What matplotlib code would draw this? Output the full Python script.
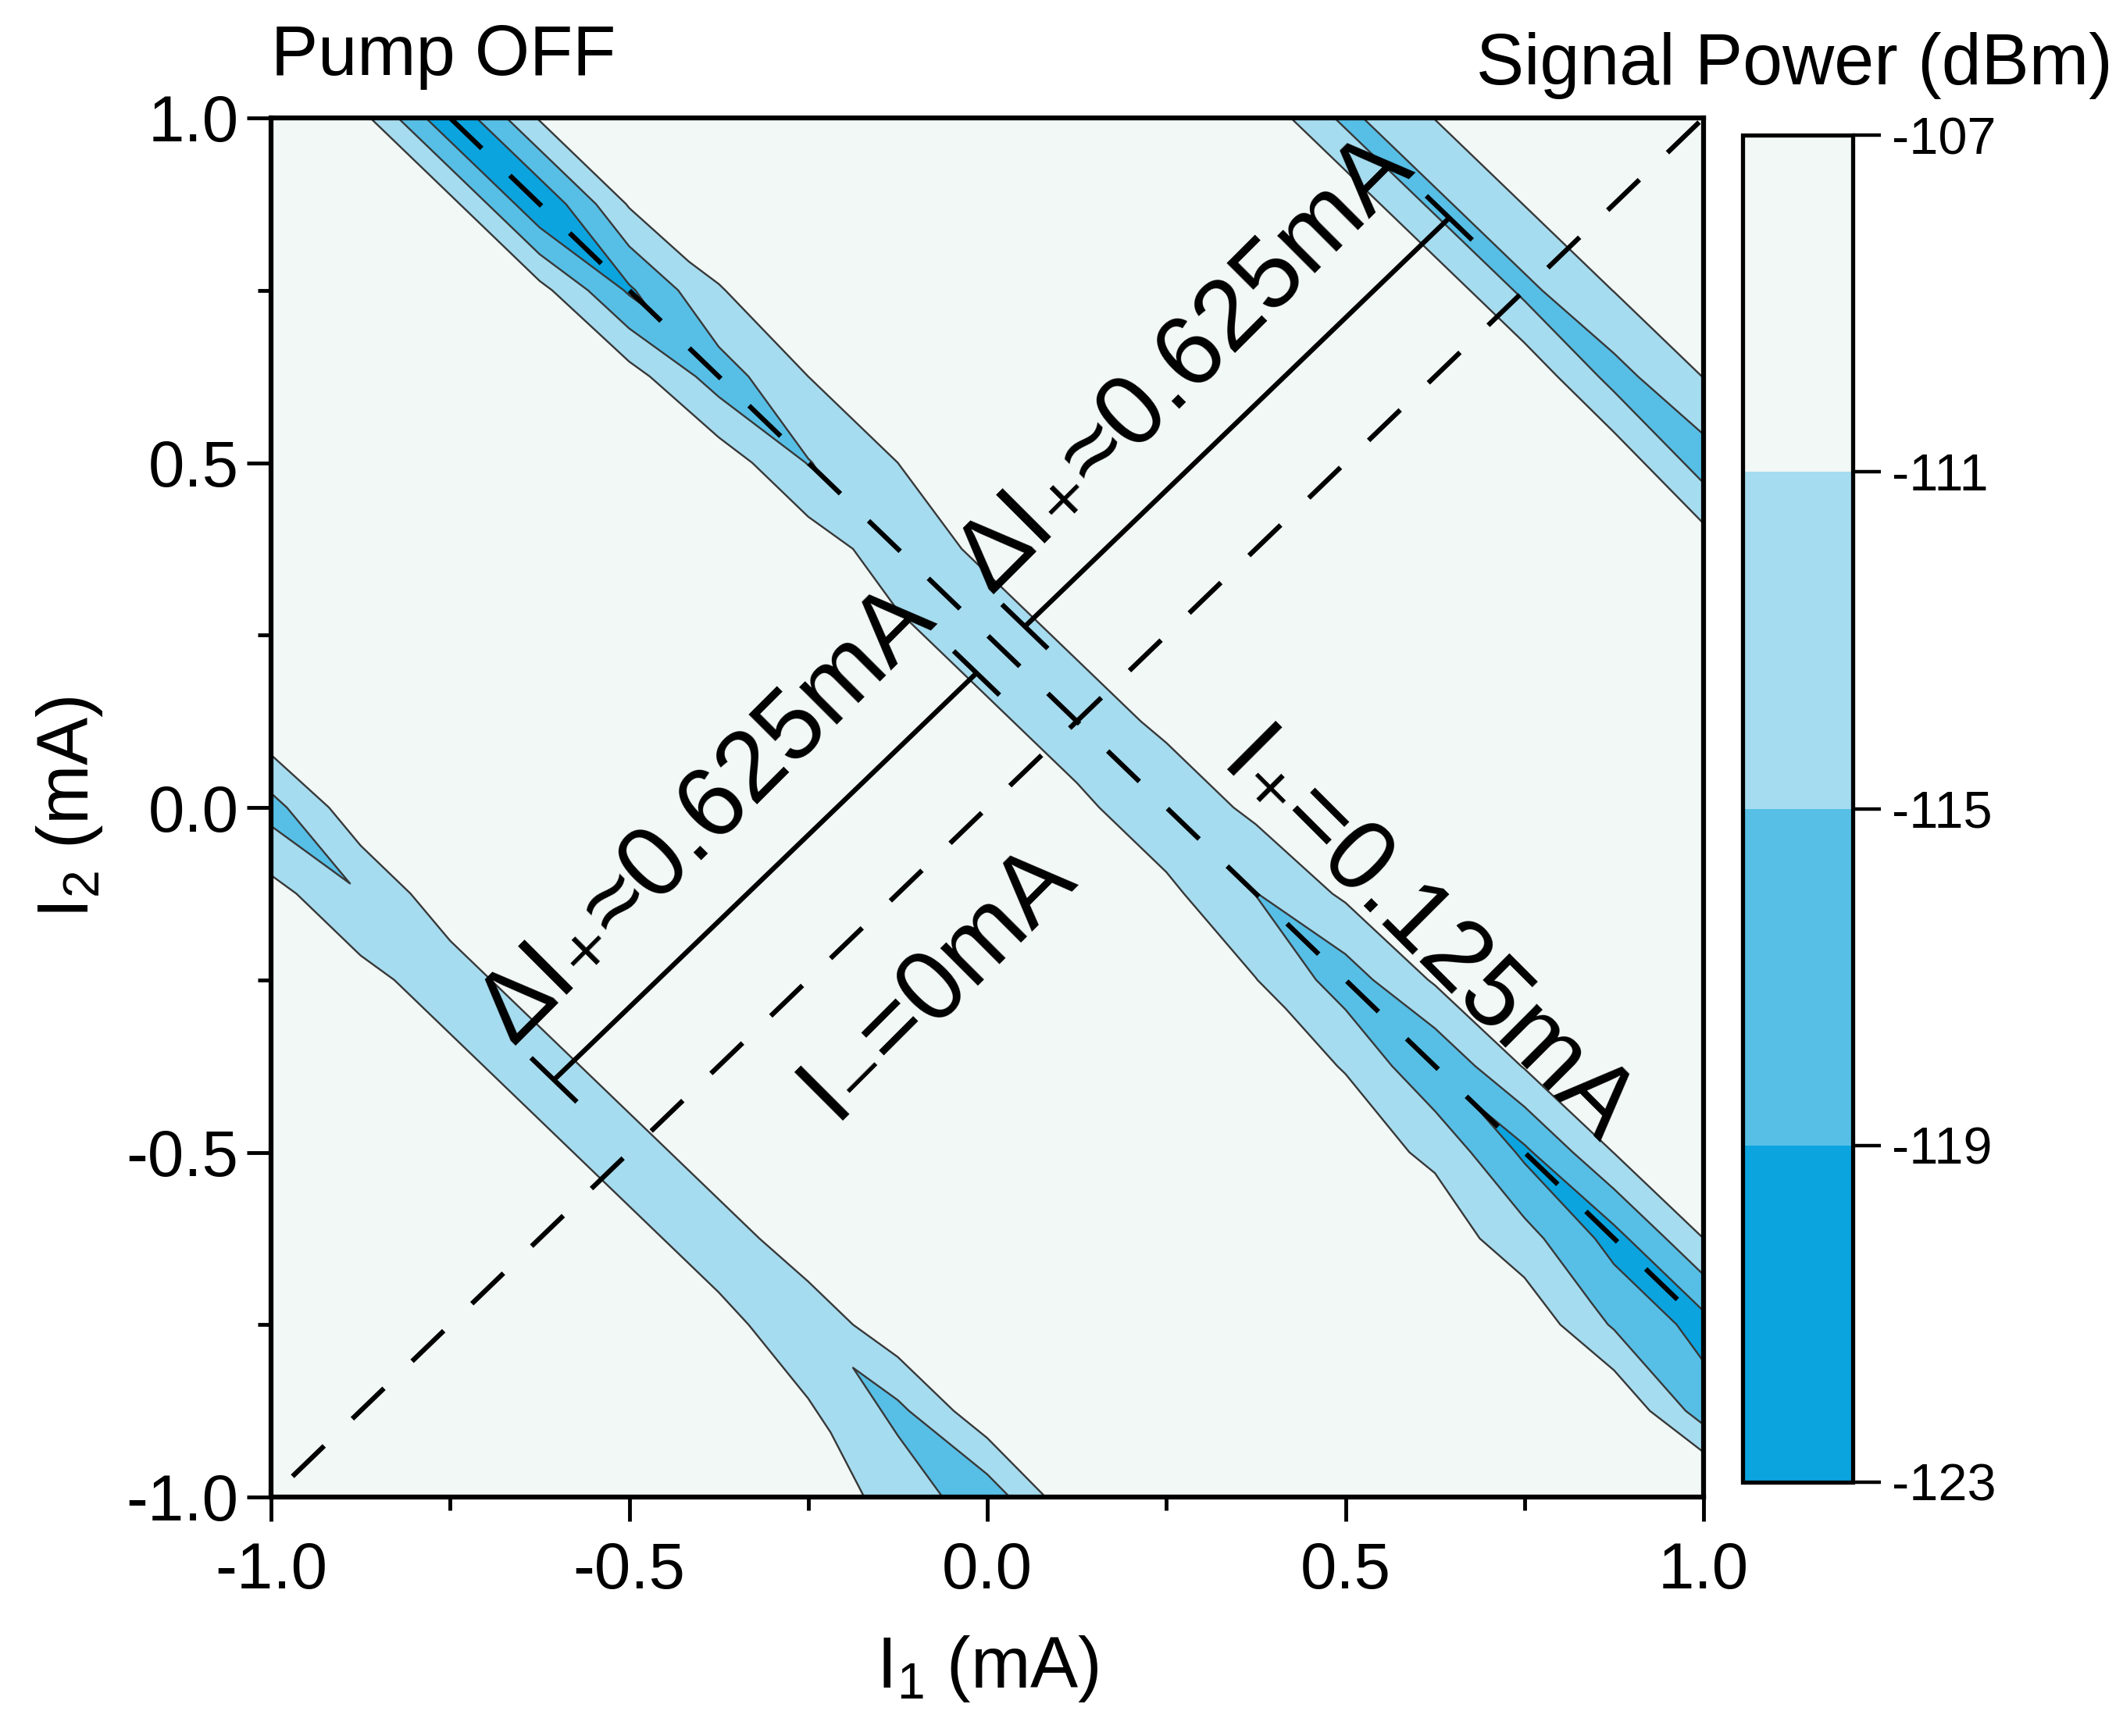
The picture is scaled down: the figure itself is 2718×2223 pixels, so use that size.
import matplotlib
matplotlib.use('Agg')
import matplotlib.pyplot as plt
import matplotlib.tri as mtri
from matplotlib.colors import ListedColormap, BoundaryNorm
from matplotlib.cm import ScalarMappable
from matplotlib.ticker import FixedLocator, FormatStrFormatter

plt.rcParams['font.family'] = ['Liberation Sans', 'DejaVu Sans']
plt.rcParams['mathtext.fontset'] = 'custom'
plt.rcParams['mathtext.rm'] = 'Liberation Sans'
plt.rcParams['mathtext.it'] = 'Liberation Sans'
plt.rcParams['mathtext.bf'] = 'Liberation Sans:bold'
plt.rcParams['mathtext.sf'] = 'Liberation Sans'
plt.rcParams['axes.unicode_minus'] = False

# ---------------- data ----------------
i1_values = [-1.0, -0.875, -0.75, -0.625, -0.5, -0.375, -0.25, -0.125, 0.0,
             0.125, 0.25, 0.375, 0.5, 0.625, 0.75, 0.875, 1.0]
i2_values = [-1.0, -0.875, -0.75, -0.625, -0.5, -0.375, -0.25, -0.125, 0.0,
             0.125, 0.25, 0.375, 0.5, 0.625, 0.75, 0.875, 1.0]

# signal power (dBm); one row per I2 value (bottom to top), columns follow I1
power_rows = [
    [-109, -109, -109, -109, -109, -109, -108.5, -112.5, -117.5, -107.5, -109, -109, -109, -109, -109, -109, -104.5],
    [-109, -109, -109, -109, -109, -109, -110.5, -116, -108, -109, -109, -109, -109, -109, -109, -107, -117],
    [-109, -109, -109, -109, -109, -109.5, -114, -108, -109, -109, -109, -109, -109, -109, -108, -115.5, -120.5],
    [-109, -109, -109, -109, -109.5, -113.5, -108, -109, -109, -109, -109, -109, -109, -108.5, -113.5, -120.5, -111],
    [-109, -109, -109, -109.5, -113.5, -108, -109, -109, -109, -109, -109, -109, -109, -111.8, -119.8, -110.9, -109],
    [-109, -109, -109.5, -113.5, -108, -109, -109, -109, -109, -109, -109, -109, -111.2, -118.5, -110.7, -109, -109],
    [-109, -109.5, -113.5, -108, -109, -109, -109, -109, -109, -109, -109, -110.9, -117, -110.5, -109, -109, -109],
    [-109.5, -114.8, -108, -109, -109, -109, -109, -109, -109, -109, -110, -115.1, -110.3, -109, -109, -109, -109],
    [-116.5, -108, -109, -109, -109, -109, -109, -109, -109, -110, -114, -110, -109, -109, -109, -109, -109],
    [-107.5, -109, -109, -109, -109, -109, -109, -109, -110, -113.5, -110, -109, -109, -109, -109, -109, -109],
    [-109, -109, -109, -109, -109, -109, -109, -110, -113.5, -110, -108.5, -109, -109, -109, -109, -109, -109],
    [-109, -109, -109, -109, -109, -109, -108.5, -113.5, -110, -108.5, -109, -109, -109, -109, -109, -109, -108.5],
    [-109, -109, -109, -109, -109, -108.5, -115.2, -111, -108.5, -109, -109, -109, -109, -109, -109, -108, -117],
    [-109, -109, -109, -109, -109.2, -117, -111, -108.5, -109, -109, -109, -109, -109, -109, -107.8, -116.5, -110.9],
    [-109, -109, -109, -109.6, -119.6, -111.2, -108.5, -109, -109, -109, -109, -109, -109, -107.8, -116, -110.9, -109],
    [-109, -109, -109.6, -122.5, -110.6, -108.5, -109, -109, -109, -109, -109, -109, -107.8, -116, -110.9, -109, -109],
    [-109, -109.6, -122.5, -110.6, -108.5, -109, -109, -109, -109, -109, -109, -107.8, -116, -110.9, -109, -109, -109],
]

levels = [-123, -119, -115, -111, -107]
level_colors = ['#0BA4DF', '#57BFE6', '#A6DCEF', '#F2F8F6']

x_ticks = [-1.0, -0.5, 0.0, 0.5, 1.0]
x_minor = [-0.75, -0.25, 0.25, 0.75]
y_ticks = [-1.0, -0.5, 0.0, 0.5, 1.0]
y_minor = [-0.75, -0.25, 0.25, 0.75]

# guide lines (data coordinates)
diag_line_x = [-0.97, 1.0]
diag_line_y = [-0.97, 1.0]
anti_line_x = [-0.75, 1.0]
anti_line_y = [1.0, -0.75]
bracket1 = [(-0.605, -0.395), (-0.015, 0.195)]
bracket2 = [(0.0525, 0.2625), (0.645, 0.855)]
bar_half = 0.032

# ---------------- figure ----------------
W, H = 2718, 2223
fig = plt.figure(figsize=(W / 100, H / 100), dpi=100)
ax = fig.add_axes([347 / W, 1 - 1917 / H, (2181 - 347) / W, (1917 - 151) / H])

# measurement grid split into triangles along the I1+I2 = const direction
n = len(i1_values)
pts_x, pts_y, pts_z = [], [], []
for j, row in enumerate(power_rows):
    for i, v in enumerate(row):
        pts_x.append(i1_values[i])
        pts_y.append(i2_values[j])
        pts_z.append(v)
triangles = []
for j in range(n - 1):
    for i in range(n - 1):
        a = j * n + i
        b = a + 1
        c = a + n
        d = c + 1
        triangles.append([a, b, c])
        triangles.append([b, d, c])
tri = mtri.Triangulation(pts_x, pts_y, triangles)

cmap = ListedColormap(level_colors).with_extremes(over=level_colors[-1], under=level_colors[0])
ax.tricontourf(tri, pts_z, levels=levels, cmap=cmap, extend='both')
ax.tricontour(tri, pts_z, levels=levels[1:-1], colors='#383838', linewidths=1.7,
              linestyles='solid')

dash = (0, (9, 8))
ax.plot(diag_line_x, diag_line_y, color='black', lw=4.5, linestyle=dash)
ax.plot(anti_line_x, anti_line_y, color='black', lw=4.5, linestyle=dash)

for (p0, p1) in (bracket1, bracket2):
    ax.plot([p0[0], p1[0]], [p0[1], p1[1]], color='black', lw=4.5, solid_capstyle='butt')
    for (px, py) in (p0, p1):
        ax.plot([px - bar_half, px + bar_half], [py + bar_half, py - bar_half],
                color='black', lw=4.5, solid_capstyle='butt')

ann_size = 92
ax.text(-0.391, -0.011, 'ΔI₊≈0.625mA', rotation=45, rotation_mode='anchor',
        ha='center', va='center', fontsize=ann_size)
ax.text(0.276, 0.643, 'ΔI₊≈0.625mA', rotation=45, rotation_mode='anchor',
        ha='center', va='center', fontsize=ann_size)
ax.text(-0.070, -0.252, 'I₋=0mA', rotation=45, rotation_mode='anchor',
        ha='center', va='center', fontsize=ann_size)
ax.text(0.612, -0.193, 'I₊=0.125mA', rotation=-45, rotation_mode='anchor',
        ha='center', va='center', fontsize=ann_size)

ax.set_xlim(-1, 1)
ax.set_ylim(-1, 1)
ax.xaxis.set_major_locator(FixedLocator(x_ticks))
ax.xaxis.set_minor_locator(FixedLocator(x_minor))
ax.yaxis.set_major_locator(FixedLocator(y_ticks))
ax.yaxis.set_minor_locator(FixedLocator(y_minor))
ax.xaxis.set_major_formatter(FormatStrFormatter('%.1f'))
ax.yaxis.set_major_formatter(FormatStrFormatter('%.1f'))
ax.tick_params(which='major', direction='out', length=22, width=3.5, labelsize=60)
ax.tick_params(which='minor', direction='out', length=12, width=3.5)
ax.tick_params(axis='x', which='major', pad=18)
ax.tick_params(axis='y', which='major', pad=8)
for sp in ax.spines.values():
    sp.set_linewidth(4.5)

ax.set_xlabel(r'I$_1$ (mA)', fontsize=66, labelpad=30)
ax.set_ylabel(r'I$_2$ (mA)', fontsize=66, labelpad=20)

# colorbar
cax = fig.add_axes([2231 / W, 1 - 1898 / H, (2372 - 2231) / W, (1898 - 173) / H])
sm = ScalarMappable(norm=BoundaryNorm(levels, len(level_colors)), cmap=ListedColormap(level_colors))
cb = fig.colorbar(sm, cax=cax, ticks=levels)
cb.ax.set_yticklabels([str(v) for v in levels])
cb.outline.set_linewidth(3.8)
cb.ax.tick_params(direction='out', length=26, width=3.2, labelsize=48, pad=10)
cb.ax.minorticks_off()

fig.text(347 / W, 1 - 96 / H, 'Pump OFF', ha='left', va='baseline', fontsize=65)
fig.text(2705 / W, 1 - 108 / H, 'Signal Power (dBm)', ha='right', va='baseline', fontsize=66)

fig.savefig('out.png', dpi=100)
